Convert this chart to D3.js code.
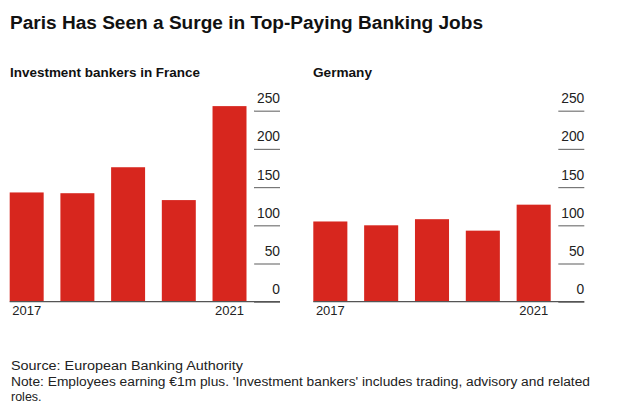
<!DOCTYPE html>
<html><head><meta charset="utf-8">
<script src="https://cdn.jsdelivr.net/npm/d3@7"></script>
<style>
body{margin:0;background:#fff;}
text{font-family:"Liberation Sans",Arial,sans-serif;}
</style></head>
<body><svg id="c" width="630" height="407"></svg>
<script>
const years = ["2017","2018","2019","2020","2021"];
const yearLabels = ["2017","","","","2021"];
const franceValues = [143,142,176,133,256];
const germanyValues = [105,100,108,93,127];
const yTicks = [0,50,100,150,200,250];
const title = "Paris Has Seen a Surge in Top-Paying Banking Jobs";
const panelTitles = ["Investment bankers in France","Germany"];
const source = "Source: European Banking Authority";
const note1 = "Note: Employees earning \u20ac1m plus. 'Investment bankers' includes trading, advisory and related";
const note2 = "roles.";

const svg = d3.select("#c");
const red = "#d7261e";

function fitText(sel, w){ sel.attr("textLength", w).attr("lengthAdjust","spacingAndGlyphs"); }

svg.append("text").attr("x",10).attr("y",29).attr("font-size",18).attr("font-weight","bold")
  .attr("fill","#111").text(title).call(fitText,473);

const y = d3.scaleLinear().domain([0,250]).range([301.7,110.7]);

const panels = [
  {name:panelTitles[0], values:franceValues, x0:9.7, x1:246.5, axisEnd:280, tickStart:254, tx:10, tw:190},
  {name:panelTitles[1], values:germanyValues, x0:313.3, x1:550.7, axisEnd:584.3, tickStart:558.3, tx:313, tw:59}
];

panels.forEach(p=>{
  const g = svg.append("g");
  g.append("text").attr("x",p.tx).attr("y",77).attr("font-size",13).attr("font-weight","bold")
    .attr("fill","#111").text(p.name).call(fitText,p.tw);
  const x = d3.scaleBand().domain(years).range([p.x0,p.x1]).paddingInner(0.33).paddingOuter(0);
  const yAxis = d3.axisRight(y).tickValues(yTicks).tickSize(0).tickFormat(d3.format("d"));
  const ya = g.append("g").attr("transform",`translate(${p.axisEnd},0)`).call(yAxis);
  ya.select(".domain").remove();
  ya.selectAll(".tick").append("line").attr("x1",p.tickStart-p.axisEnd).attr("x2",0)
    .attr("stroke","#777").attr("stroke-width",1.2);
  ya.selectAll(".tick text").attr("x",0).attr("dy",null).attr("y",-8)
    .attr("text-anchor","end").attr("font-size",13.8).attr("fill","#222")
    .attr("font-family","Liberation Sans, Arial, sans-serif");
  g.selectAll("rect").data(p.values).join("rect")
    .attr("x",(d,i)=>x(years[i])).attr("width",x.bandwidth())
    .attr("y",d=>y(d)).attr("height",d=>y(0)-y(d)).attr("fill",red);
  g.append("line").attr("x1",p.x0).attr("x2",p.axisEnd).attr("y1",y(0)).attr("y2",y(0))
    .attr("stroke","#555").attr("stroke-width",1.3);
  const xAxis = d3.axisBottom(x).tickSize(0).tickFormat((d,i)=>yearLabels[i]);
  const xa = g.append("g").attr("transform",`translate(0,${y(0)})`).call(xAxis);
  xa.select(".domain").remove();
  xa.selectAll(".tick text").attr("dy",null).attr("y",13.3).attr("font-size",13).attr("fill","#222")
    .attr("font-family","Liberation Sans, Arial, sans-serif");
});

svg.append("text").attr("x",11).attr("y",370).attr("font-size",12.5).attr("fill","#222").text(source).call(fitText,232);
svg.append("text").attr("x",11).attr("y",385.5).attr("font-size",12.5).attr("fill","#222").text(note1).call(fitText,579);
svg.append("text").attr("x",11).attr("y",401).attr("font-size",12.5).attr("fill","#222").text(note2);
</script></body></html>
